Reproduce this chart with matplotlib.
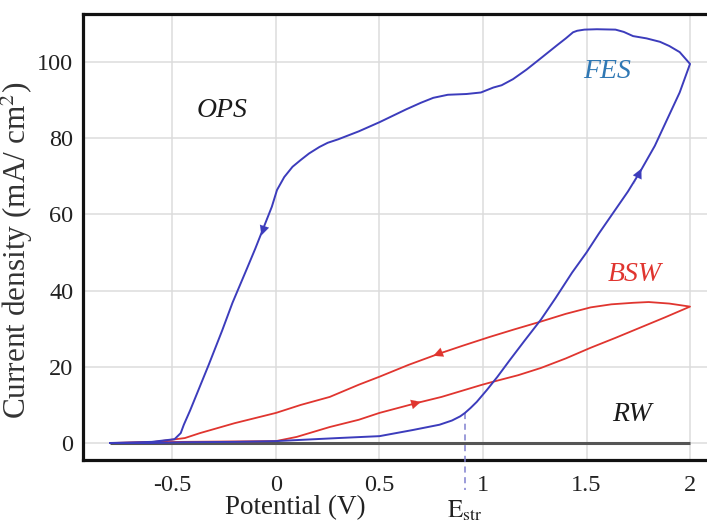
import numpy as np
import matplotlib
matplotlib.use('Agg')
import matplotlib.pyplot as plt

plt.rcParams['font.family'] = ['Liberation Serif', 'DejaVu Serif']
plt.rcParams['mathtext.fontset'] = 'stix'

# blue loop (FES / OPS), forward scan then reverse scan
fesFwdX = [-0.8, -0.6, -0.45, -0.2, 0.0, 0.3, 0.5, 0.66, 0.79, 0.85, 0.89, 0.913, 0.94, 0.97,
           1.02, 1.07, 1.13, 1.2, 1.28, 1.35, 1.43, 1.5, 1.56, 1.63, 1.70, 1.76, 1.83, 1.89, 1.95, 2.0]
fesFwdY = [0, 0, 0.2, 0.3, 0.5, 1.3, 1.8, 3.4, 4.8, 5.9, 7.0, 7.9, 9.2, 10.8,
           14, 17.4, 21.8, 26.8, 32.4, 38, 44.7, 50, 55, 60.5, 66, 71.3, 78, 85, 92, 99.5]
fesRevX = [2.0, 1.95, 1.9, 1.855, 1.79, 1.725, 1.68, 1.64, 1.55, 1.49, 1.455, 1.435, 1.40, 1.36,
           1.275, 1.21, 1.145, 1.09, 1.05, 0.99, 0.92, 0.83, 0.76, 0.7, 0.63, 0.5, 0.4,
           0.3, 0.25, 0.21, 0.16, 0.12, 0.08, 0.04, 0.005, -0.02, -0.06, -0.1, -0.14,
           -0.21, -0.26, -0.325, -0.37, -0.415, -0.445, -0.46, -0.49, -0.6, -0.8]
fesRevY = [99.5, 102.6, 104.2, 105.3, 106.2, 106.8, 107.9, 108.5, 108.6, 108.5, 108.2, 107.8,
           106.2, 104.5, 100.8, 98.0, 95.5, 93.9, 93.3, 92.0, 91.6, 91.4, 90.6, 89.3, 87.6,
           84.2, 81.8, 79.7, 78.8, 77.7, 76.0, 74.3, 72.5, 69.8, 66.4, 62, 56.5, 51, 45.8,
           36.8, 29.5, 20.5, 14.5, 8.5, 4.8, 2.6, 1.0, 0.3, 0]

# red loop (BSW)
bswFwdX = [-0.8, -0.45, 0.0, 0.1, 0.26, 0.4, 0.5, 0.68, 0.8, 0.99, 1.05, 1.17, 1.28,
           1.4, 1.52, 1.64, 1.76, 1.88, 2.0]
bswFwdY = [0, 0.3, 0.5, 1.6, 4.2, 6.1, 7.9, 10.5, 12.1, 15.2, 16.1, 17.8, 19.7,
           22.2, 25, 27.6, 30.3, 33.0, 35.8]
bswRevX = [2.0, 1.9, 1.8, 1.725, 1.62, 1.52, 1.4, 1.275, 1.15, 1.03, 0.9, 0.78,
           0.64, 0.5, 0.4, 0.26, 0.12, 0.0, -0.2, -0.367, -0.44, -0.6, -0.8]
bswRevY = [35.8, 36.6, 37.0, 36.8, 36.4, 35.6, 33.9, 31.8, 29.8, 27.8, 25.5, 23.3,
           20.5, 17.4, 15.3, 12.1, 10.0, 7.9, 5.2, 2.6, 1.3, 0.2, 0]

# RW baseline
rwX = [-0.8, 2.0]
rwY = [0, 0]

eStr = 0.913
eStrY = 7.9

xTicks = [-0.5, 0, 0.5, 1, 1.5, 2]
xTickLabels = ['-0.5', '0', '0.5', '1', '1.5', '2']
yTicks = [0, 20, 40, 60, 80, 100]

blue = '#3c3cbc'
red = '#e0352f'

fig = plt.figure(figsize=(7.07, 5.23), dpi=100)
ax = fig.add_axes([83/707, 1-460/523, 1-83/707, (460-14)/523])

ax.plot(rwX, rwY, color='#555555', lw=2.2, zorder=2, solid_capstyle='butt')
ax.plot(bswFwdX + bswRevX, bswFwdY + bswRevY, color=red, lw=1.3, zorder=3,
        solid_joinstyle='round')
ax.plot(fesFwdX + fesRevX, fesFwdY + fesRevY, color=blue, lw=1.4, zorder=4,
        solid_joinstyle='round')

# direction arrows
def arrow(x0, y0, x1, y1, c):
    ax.annotate('', xy=(x1, y1), xytext=(x0, y0),
                arrowprops=dict(arrowstyle='-|>', color=c, lw=0.1,
                                mutation_scale=17, shrinkA=0, shrinkB=0),
                zorder=5)

arrow(-0.04, 59.5, -0.07, 54.5, blue)
arrow(1.73, 68.0, 1.765, 72.0, blue)
arrow(0.82, 24.2, 0.76, 22.9, red)
arrow(0.64, 9.9, 0.70, 10.8, red)

# E_str marker
ax.plot([eStr, eStr], [eStrY, -12.3], color='#8080d0', lw=1.1, ls=(0, (4, 3)),
        clip_on=False, zorder=3)
ax.text(eStr, -14.5, r'$\mathrm{E_{str}}$', ha='center', va='top', fontsize=18,
        color='#222222', clip_on=False)

# labels on curves
ax.text(-0.26, 87.4, 'OPS', fontsize=20, style='italic', ha='center', va='center',
        color='#1a1a1a')
ax.text(1.60, 97.6, 'FES', fontsize=20, style='italic', ha='center', va='center',
        color='#2f78b4')
ax.text(1.734, 44.1, 'BSW', fontsize=20, style='italic', ha='center', va='center',
        color='#e0352f')
ax.text(1.72, 7.6, 'RW', fontsize=20, style='italic', ha='center', va='center',
        color='#1a1a1a')

ax.set_xlim(-0.932, 2.082)
ax.set_ylim(-4.46, 112.6)
ax.set_xticks(xTicks)
ax.set_xticklabels(xTickLabels)
ax.set_yticks(yTicks)
ax.grid(True, color='#dcdcdc', lw=1.1, zorder=0)
ax.set_axisbelow(True)
ax.tick_params(axis='both', length=0, labelsize=17.5, colors='#222222')
ax.tick_params(axis='x', pad=11)
ax.tick_params(axis='y', pad=7)

for s in ['left', 'bottom', 'top']:
    ax.spines[s].set_linewidth(2.3)
    ax.spines[s].set_color('#111111')
ax.spines['right'].set_visible(False)

ax.set_xlabel('Potential (V)', fontsize=19.5, color='#222222')
ax.xaxis.set_label_coords((295-83)/624, (460-495)/446)
ax.set_ylabel(r'Current density (mA/ cm$^2$)', fontsize=22.5, color='#333333')
ax.yaxis.set_label_coords((35-83)/624, 0.47)

plt.savefig('out.png', dpi=100)
plt.close(fig)
